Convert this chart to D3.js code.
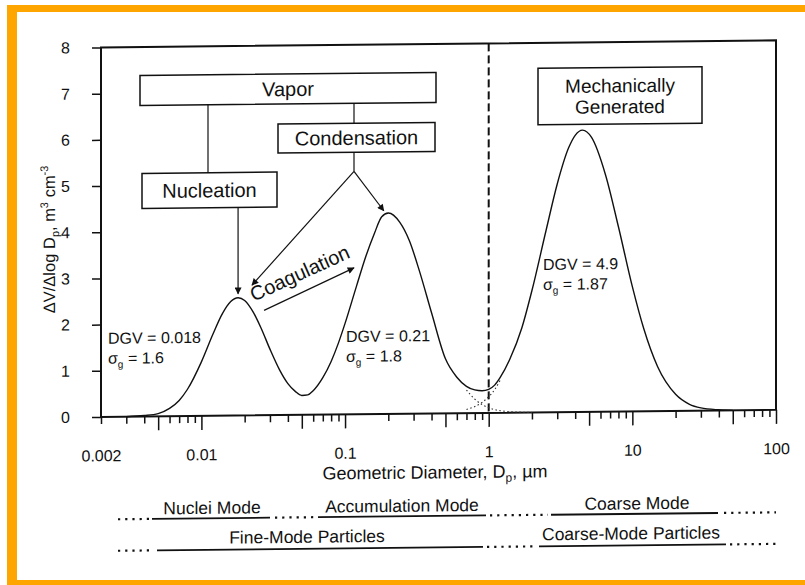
<!DOCTYPE html>
<html>
<head>
<meta charset="utf-8">
<script src="https://cdn.jsdelivr.net/npm/d3@7"></script>
<style>
  body { margin: 0; background: #fff; }
  svg { display: block; font-family: "Liberation Sans", Arial, sans-serif; }
</style>
</head>
<body>
<svg id="chart" width="805" height="585"></svg>
<script>

// Geometric diameter (um) and dV/dlogDp
const diam = [0.003, 0.004, 0.005, 0.006, 0.007, 0.008, 0.01, 0.012, 0.014, 0.016,
  0.018, 0.02, 0.023, 0.026, 0.03, 0.035, 0.04, 0.045, 0.05, 0.055,
  0.06, 0.07, 0.08, 0.09, 0.1, 0.12, 0.14, 0.16, 0.18, 0.2,
  0.24, 0.28, 0.33, 0.4, 0.5, 0.6, 0.7, 0.8, 0.9, 1.0,
  1.1, 1.2, 1.4, 1.7, 2, 2.5, 3, 3.6, 4, 4.5,
  5.2, 6.5, 8, 10, 12, 15, 20, 25, 30, 40, 50];
const dvTotal = [0.00, 0.02, 0.06, 0.17, 0.34, 0.58, 1.17, 1.76, 2.21, 2.47,
  2.55, 2.49, 2.23, 1.89, 1.43, 0.98, 0.68, 0.51, 0.42, 0.43,
  0.52, 0.80, 1.15, 1.55, 1.97, 2.77, 3.43, 3.91, 4.27, 4.35,
  4.15, 3.75, 3.08, 2.18, 1.18, 0.78, 0.58, 0.50, 0.48, 0.51,
  0.60, 0.76, 1.15, 1.83, 2.64, 3.92, 4.94, 5.72, 5.99, 6.10,
  5.94, 5.13, 4.00, 2.70, 1.79, 0.96, 0.36, 0.14, 0.06, 0.015, 0.00];

// dotted single-mode tails around 1 um
const accumTailDiam = [0.7, 0.8, 0.9, 1.0, 1.1, 1.2, 1.4, 1.7, 2.0];
const accumTail = [0.50, 0.30, 0.18, 0.11, 0.07, 0.045, 0.02, 0.008, 0.0];
const coarseTailDiam = [0.7, 0.8, 0.9, 1.0, 1.1, 1.2];
const coarseTail = [0.08, 0.14, 0.23, 0.35, 0.50, 0.70];

const yTicks = [0, 1, 2, 3, 4, 5, 6, 7, 8];
const xLabels = [0.002, 0.01, 0.1, 1, 10, 100];

const modeDGV = ["0.018", "0.21", "4.9"];
const modeSigma = ["1.6", "1.8", "1.87"];
const rangeRow1 = ["Nuclei Mode", "Accumulation Mode", "Coarse Mode"];
const rangeRow2 = ["Fine-Mode Particles", "Coarse-Mode Particles"];

const svg = d3.select("#chart");
const orange = "#ffa500";
const ink = "#111";

// orange slide frame
svg.append("rect").attr("x", 7).attr("y", 5).attr("width", 798).attr("height", 7).attr("fill", orange);
svg.append("rect").attr("x", 7).attr("y", 5).attr("width", 10).attr("height", 580).attr("fill", orange);
svg.append("rect").attr("x", 7).attr("y", 580).attr("width", 798).attr("height", 5).attr("fill", orange);

// the scanned figure leans a little: right side sits higher
const g = svg.append("g").attr("transform", "skewY(-0.6)");

const plot = { left: 101, right: 776, top: 48.5, bottom: 418 };
const x = d3.scaleLog().domain([0.002, 100]).range([plot.left, plot.right]);
const y = d3.scaleLinear().domain([0, 8]).range([plot.bottom, plot.top]);

// arrow head
svg.append("defs").append("marker")
  .attr("id", "arrow")
  .attr("viewBox", "0 0 10 10")
  .attr("refX", 9).attr("refY", 5)
  .attr("markerWidth", 8).attr("markerHeight", 7)
  .attr("markerUnits", "userSpaceOnUse")
  .attr("orient", "auto")
  .append("path").attr("d", "M0,0 L10,5 L0,10 z").attr("fill", ink);

// log ticks: long at 1 and 5 of each decade, short elsewhere
let majorVals = [], minorVals = [];
[0.001, 0.01, 0.1, 1, 10].forEach(function (dec) {
  for (let k = 1; k <= 9; k++) {
    let v = +(k * dec).toPrecision(3);
    if (v < 0.002 || v > 100) continue;
    if (k === 1 || k === 5) majorVals.push(v); else minorVals.push(v);
  }
});
majorVals.push(100);

function styleAxis(sel) {
  sel.select(".domain").remove();
  sel.selectAll(".tick line").attr("stroke", ink).attr("stroke-width", 1.5);
  sel.selectAll(".tick text")
    .attr("fill", ink)
    .attr("font-family", "'Liberation Sans', Arial, sans-serif")
    .attr("font-size", 16);
}

g.append("g").attr("transform", "translate(0," + plot.bottom + ")")
  .call(d3.axisBottom(x).tickValues(minorVals).tickSize(7))
  .call(styleAxis)
  .selectAll(".tick text").remove();
g.append("g").attr("transform", "translate(0," + plot.bottom + ")")
  .call(d3.axisBottom(x).tickValues(majorVals).tickSize(14))
  .call(styleAxis)
  .selectAll(".tick text").remove();
g.append("g").attr("transform", "translate(0," + plot.bottom + ")")
  .call(d3.axisBottom(x).tickValues(xLabels).tickSize(0).tickPadding(33).tickFormat(function (d) { return String(d); }))
  .call(styleAxis);

g.append("g").attr("transform", "translate(" + plot.left + ",0)")
  .call(d3.axisLeft(y).tickValues(yTicks).tickSize(9).tickPadding(22))
  .call(styleAxis);

// plot frame
g.append("rect")
  .attr("x", plot.left).attr("y", plot.top)
  .attr("width", plot.right - plot.left).attr("height", plot.bottom - plot.top)
  .attr("fill", "none").attr("stroke", ink).attr("stroke-width", 2);

// axis titles
let xt = g.append("text").attr("x", 435).attr("y", 483)
  .attr("text-anchor", "middle").attr("font-size", 18).attr("fill", ink);
xt.append("tspan").text("Geometric Diameter, D");
xt.append("tspan").attr("font-size", 12).attr("dy", 4).text("p");
xt.append("tspan").attr("dy", -4).text(", µm");

let yt = g.append("text")
  .attr("transform", "translate(55,240) rotate(-90)")
  .attr("text-anchor", "middle").attr("font-size", 16.5).attr("fill", ink);
yt.append("tspan").text("ΔV/Δlog D");
yt.append("tspan").attr("font-size", 11).attr("dy", 4).text("p");
yt.append("tspan").attr("dy", -4).text(", m");
yt.append("tspan").attr("font-size", 11).attr("dy", -7).text("3");
yt.append("tspan").attr("dy", 7).text(" cm");
yt.append("tspan").attr("font-size", 11).attr("dy", -7).text("-3");

// 1 um cut between fine and coarse
g.append("line")
  .attr("x1", x(1)).attr("x2", x(1)).attr("y1", y(8)).attr("y2", y(0))
  .attr("stroke", ink).attr("stroke-width", 2).attr("stroke-dasharray", "8,4");

// curves
const line = d3.line()
  .x(function (d) { return x(d[0]); })
  .y(function (d) { return y(d[1]); })
  .curve(d3.curveMonotoneX);

g.append("path").datum(d3.zip(accumTailDiam, accumTail)).attr("d", line)
  .attr("fill", "none").attr("stroke", "#333").attr("stroke-width", 1.1).attr("stroke-dasharray", "1.5,2.5");
g.append("path").datum(d3.zip(coarseTailDiam, coarseTail)).attr("d", line)
  .attr("fill", "none").attr("stroke", "#333").attr("stroke-width", 1.1).attr("stroke-dasharray", "1.5,2.5");
g.append("path").datum(d3.zip(diam, dvTotal)).attr("d", line)
  .attr("fill", "none").attr("stroke", ink).attr("stroke-width", 1.4);

// process boxes
const boxes = [
  { lines: ["Vapor"], x: 140, y: 77, w: 296, h: 30 },
  { lines: ["Condensation"], x: 278, y: 127, w: 157, h: 29 },
  { lines: ["Nucleation"], x: 142, y: 175, w: 135, h: 35 },
  { lines: ["Mechanically", "Generated"], x: 538, y: 74, w: 164, h: 56.5 }
];
boxes.forEach(function (b) {
  g.append("rect").attr("x", b.x).attr("y", b.y).attr("width", b.w).attr("height", b.h)
    .attr("fill", "#fff").attr("stroke", ink).attr("stroke-width", 1.5);
  let mid = b.y + b.h / 2;
  let fs = b.lines.length > 1 ? 19 : 20;
  b.lines.forEach(function (t, i) {
    g.append("text")
      .attr("x", b.x + b.w / 2)
      .attr("y", mid + 7 + (i - (b.lines.length - 1) / 2) * 21)
      .attr("text-anchor", "middle").attr("font-size", fs).attr("fill", ink)
      .text(t);
  });
});

// connectors and arrows
function seg(x1, y1, x2, y2, arrow) {
  let l = g.append("line").attr("x1", x1).attr("y1", y1).attr("x2", x2).attr("y2", y2)
    .attr("stroke", ink).attr("stroke-width", 1.2);
  if (arrow) l.attr("marker-end", "url(#arrow)");
}
seg(208, 107, 208, 175, false);
seg(354, 107, 354, 127, false);
seg(354, 156, 354, 175, false);
seg(354, 175, x(0.186), y(4.4), true);
seg(354, 175, x(0.0225), y(2.82), true);
seg(x(0.018), 210, x(0.018), y(2.55) - 4, true);
seg(x(0.0273), y(2.27), x(0.1154), y(3.17), true);

g.append("text")
  .attr("transform", "translate(302.5,282.6) rotate(-24)")
  .attr("text-anchor", "middle").attr("font-size", 20).attr("fill", ink)
  .text("Coagulation");

// mode parameters
const modeLabelPos = [[108, 345], [346, 345.6], [543, 275.6]];
modeDGV.forEach(function (v, i) {
  let p = modeLabelPos[i];
  g.append("text").attr("x", p[0]).attr("y", p[1])
    .attr("font-size", 16).attr("fill", ink).text("DGV = " + v);
  let s = g.append("text").attr("x", p[0]).attr("y", p[1] + 20)
    .attr("font-size", 16).attr("fill", ink);
  s.append("tspan").text("σ");
  s.append("tspan").attr("font-size", 10).attr("dy", 4).text("g");
  s.append("tspan").attr("dy", -4).text(" = " + modeSigma[i]);
});

// size range bars under the axis
const row1Segs = [["dot", 118, 150], ["solid", 152, 270], ["dot", 275, 316], ["solid", 318, 486],
  ["dot", 490, 548], ["solid", 551, 718], ["dot", 724, 776]];
const row2Segs = [["dot", 118, 154], ["solid", 157, 483], ["dot", 487, 536], ["solid", 539, 726],
  ["dot", 730, 776]];
function drawRow(segs, yy) {
  segs.forEach(function (s) {
    let l = g.append("line").attr("x1", s[1]).attr("x2", s[2]).attr("y1", yy).attr("y2", yy)
      .attr("stroke", ink);
    if (s[0] === "dot") l.attr("stroke-width", 2.2).attr("stroke-dasharray", "2.2,5");
    else l.attr("stroke-width", 1.8);
  });
}
drawRow(row1Segs, 520.5);
drawRow(row2Segs, 552);

const row1X = [212, 402, 637];
rangeRow1.forEach(function (t, i) {
  g.append("text").attr("x", row1X[i]).attr("y", 516)
    .attr("text-anchor", "middle").attr("font-size", 17.5).attr("fill", ink).text(t);
});
const row2X = [307, 631];
rangeRow2.forEach(function (t, i) {
  g.append("text").attr("x", row2X[i]).attr("y", 546)
    .attr("text-anchor", "middle").attr("font-size", 17.5).attr("fill", ink).text(t);
});
</script>
</body>
</html>
